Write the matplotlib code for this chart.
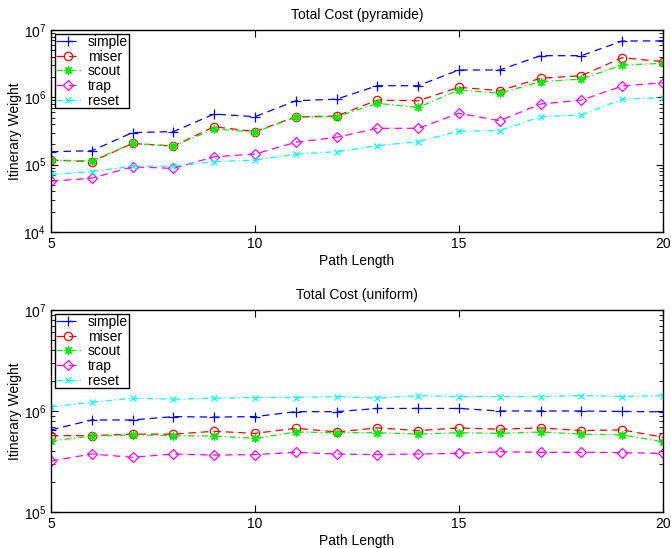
import numpy as np
import matplotlib
matplotlib.use("Agg")
import matplotlib.pyplot as plt
from matplotlib.ticker import LogLocator, NullFormatter

plt.rcParams.update({
    "font.family": ["Liberation Sans", "DejaVu Sans"],
    "font.size": 10,
})

path_length = list(range(5, 21))
series_names = ["simple", "miser", "scout", "trap", "reset"]

# Total Cost (pyramide)
pyr_simple = [1.56e5, 1.61e5, 3.0e5, 3.1e5, 5.65e5, 5.16e5, 8.9e5, 9.4e5,
              1.49e6, 1.49e6, 2.55e6, 2.55e6, 4.16e6, 4.16e6, 6.87e6, 6.9e6]
pyr_miser = [1.17e5, 1.11e5, 2.07e5, 1.89e5, 3.66e5, 3.1e5, 5.16e5, 5.28e5,
             9.1e5, 8.9e5, 1.41e6, 1.26e6, 1.92e6, 2.1e6, 3.88e6, 3.39e6]
pyr_scout = [1.17e5, 1.14e5, 2.07e5, 1.89e5, 3.39e5, 3.05e5, 5.06e5, 5.16e5,
             8.15e5, 7.1e5, 1.29e6, 1.15e6, 1.71e6, 1.87e6, 3.02e6, 3.2e6]
pyr_trap = [5.7e4, 6.3e4, 9.3e4, 8.8e4, 1.31e5, 1.44e5, 2.15e5, 2.55e5,
            3.47e5, 3.47e5, 5.8e5, 4.5e5, 7.96e5, 9.1e5, 1.47e6, 1.65e6]
pyr_reset = [7.2e4, 7.9e4, 9.5e4, 9.5e4, 1.11e5, 1.17e5, 1.44e5, 1.56e5,
             1.91e5, 2.2e5, 3.16e5, 3.2e5, 5.16e5, 5.47e5, 9.4e5, 9.9e5]

# Total Cost (uniform)
uni_simple = [6.5e5, 8.15e5, 8.15e5, 8.8e5, 8.7e5, 8.8e5, 9.85e5, 9.85e5,
              1.06e6, 1.06e6, 1.06e6, 1.0e6, 1.0e6, 1.0e6, 9.9e5, 9.8e5]
uni_miser = [5.7e5, 5.7e5, 5.9e5, 5.9e5, 6.3e5, 6.0e5, 6.75e5, 6.2e5,
             6.8e5, 6.4e5, 6.8e5, 6.6e5, 6.8e5, 6.4e5, 6.5e5, 5.5e5]
uni_scout = [5.05e5, 5.66e5, 5.8e5, 5.7e5, 5.66e5, 5.36e5, 6.2e5, 6.1e5,
             6.1e5, 5.9e5, 6.1e5, 6.0e5, 6.2e5, 5.9e5, 5.8e5, 4.97e5]
uni_trap = [3.2e5, 3.75e5, 3.48e5, 3.75e5, 3.66e5, 3.7e5, 3.9e5, 3.75e5,
            3.7e5, 3.75e5, 3.81e5, 3.95e5, 3.9e5, 3.9e5, 3.87e5, 3.8e5]
uni_reset = [1.1e6, 1.22e6, 1.34e6, 1.31e6, 1.34e6, 1.36e6, 1.36e6, 1.39e6,
             1.34e6, 1.42e6, 1.39e6, 1.39e6, 1.39e6, 1.42e6, 1.39e6, 1.42e6]

dashed = (0, (6, 4))
dashdot = (0, (5, 2.5, 1, 2.5))
styles = [
    dict(color="blue", marker="+", linestyle=dashed, markersize=7),
    dict(color="red", marker="o", linestyle=dashed, markersize=6, markerfacecolor="none"),
    dict(color="#00ee00", marker=(8, 2, 0), linestyle=dashdot, markersize=6),
    dict(color="magenta", marker="D", linestyle=dashed, markersize=5.5, markerfacecolor="none"),
    dict(color="cyan", marker="x", linestyle=dashdot, markersize=5),
]

fig = plt.figure(figsize=(6.71, 5.48), dpi=100)
ax1 = fig.add_axes([0.076, 0.5766, 0.912, 0.3686])
ax2 = fig.add_axes([0.076, 0.0657, 0.912, 0.3686])


def draw(ax, data, title, ylim):
    for name, vals, st in zip(series_names, data, styles):
        ax.plot(path_length, vals, label=name, linewidth=0.9, markeredgewidth=0.9, **st)
    ax.set_yscale("log")
    ax.set_xlim(5, 20)
    ax.set_ylim(*ylim)
    ax.set_xticks([5, 10, 15, 20])
    ax.yaxis.set_major_locator(LogLocator(base=10, numticks=10))
    ax.yaxis.set_minor_locator(LogLocator(base=10, subs=np.arange(2, 10), numticks=20))
    ax.yaxis.set_minor_formatter(NullFormatter())
    ax.tick_params(which="both", direction="in", top=True, right=True, labelsize=10)
    ax.tick_params(which="major", length=5, width=0.8)
    ax.tick_params(which="minor", length=3, width=0.6)
    ax.set_title(title, fontsize=10, pad=8)
    ax.set_xlabel("Path Length", fontsize=10, labelpad=2)
    ax.set_ylabel("Itinerary Weight", fontsize=10, labelpad=1)
    for sp in ax.spines.values():
        sp.set_linewidth(1.0)
    leg = ax.legend(loc="upper left", fontsize=10, frameon=True, fancybox=False,
                    borderpad=0.05, labelspacing=0.05, handlelength=1.8,
                    handletextpad=0.5, borderaxespad=0.3, framealpha=1)
    leg.get_frame().set_edgecolor("black")
    leg.get_frame().set_linewidth(1.0)


draw(ax1, [pyr_simple, pyr_miser, pyr_scout, pyr_trap, pyr_reset],
     "Total Cost (pyramide)", (1e4, 1e7))
draw(ax2, [uni_simple, uni_miser, uni_scout, uni_trap, uni_reset],
     "Total Cost (uniform)", (1e5, 1e7))

fig.savefig("out.png", dpi=100, facecolor="white")
